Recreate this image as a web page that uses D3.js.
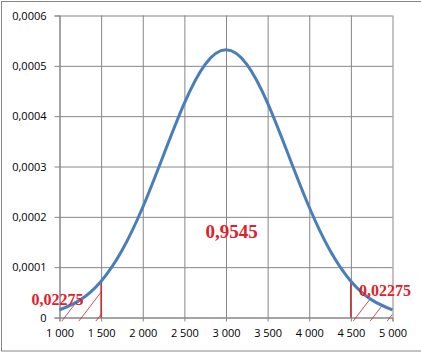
<!DOCTYPE html>
<html>
<head>
<meta charset="utf-8">
<script src="https://cdn.jsdelivr.net/npm/d3@7"></script>
<style>
  body { margin: 0; background: #fff; }
  .tick text { font-family: "Open Sans", "DejaVu Sans", sans-serif; font-size: 11px; fill: #000; }
  .lbl { font-family: "Liberation Serif", "Times New Roman", serif; font-weight: bold; fill: #e0202a; }
</style>
</head>
<body>
<div id="chart"></div>
<script>
// values
var xValues = [1000, 1250, 1500, 1750, 2000, 2250, 2500, 2750, 3000, 3250, 3500, 3750, 4000, 4250, 4500, 4750, 5000];
var yValues = [0.000015, 0.000035, 0.000072, 0.000133, 0.000219, 0.000323, 0.000426, 0.000503, 0.000532,
               0.000503, 0.000426, 0.000323, 0.000219, 0.000133, 0.000072, 0.000035, 0.000015];
var xTicks = [1000, 1500, 2000, 2500, 3000, 3500, 4000, 4500, 5000];
var yTicks = [0, 0.0001, 0.0002, 0.0003, 0.0004, 0.0005, 0.0006];
var tails = [[1000, 1500], [4500, 5000]];
var tailLabel = "0,02275";
var centerLabel = "0,9545";

var svgWidth = 421, svgHeight = 357;
var margin = {top: 15.5, left: 59.5, right: 28.5, bottom: 39.5};
var chartWidth = 392.5 - margin.left;
var chartHeight = 317.5 - margin.top;

var svg = d3.select("#chart").append("svg")
    .attr("width", svgWidth)
    .attr("height", svgHeight);

// outer frame
svg.append("rect")
    .attr("x", 1.5).attr("y", 1.5)
    .attr("width", 430).attr("height", 349.5)
    .attr("fill", "none")
    .attr("stroke", "#868686");

var chartGroup = svg.append("g")
    .attr("transform", `translate(${margin.left},${margin.top})`);

var xScale = d3.scaleLinear().domain([1000, 5000]).range([0, chartWidth]);
var yScale = d3.scaleLinear().domain([0, 0.0006]).range([chartHeight, 0]);

var fmtX = function(d) { return d3.format(",")(d).replace(",", " "); };
var fmtY = function(d) { return d === 0 ? "0" : d3.format(".4f")(d).replace(".", ","); };

// grid
chartGroup.append("g")
    .attr("class", "grid")
    .call(d3.axisLeft(yScale).tickValues(yTicks).tickSize(-chartWidth).tickFormat(""))
    .call(g => g.select(".domain").remove());
chartGroup.append("g")
    .attr("class", "grid")
    .attr("transform", `translate(0,${chartHeight})`)
    .call(d3.axisBottom(xScale).tickValues(xTicks).tickSize(-chartHeight).tickFormat(""))
    .call(g => g.select(".domain").remove());
chartGroup.selectAll(".grid line").attr("stroke", "#868686");

// axes
var yAxis = chartGroup.append("g")
    .call(d3.axisLeft(yScale).tickValues(yTicks).tickSize(5).tickPadding(8).tickFormat(fmtY));
var xAxis = chartGroup.append("g")
    .attr("transform", `translate(0,${chartHeight})`)
    .call(d3.axisBottom(xScale).tickValues(xTicks).tickSize(4).tickPadding(8).tickFormat(fmtX));
chartGroup.selectAll(".domain, .tick line").attr("stroke", "#868686");
chartGroup.selectAll(".tick text").attr("fill", "#000");

var pts = xValues.map((x, i) => ({x: x, y: yValues[i]}));

// hatched tails, clipped to the area under the curve
var areaGen = d3.area()
    .x(d => xScale(d.x))
    .y0(chartHeight + 4)
    .y1(d => yScale(d.y))
    .curve(d3.curveNatural);
var defs = svg.append("defs");
defs.append("clipPath").attr("id", "under")
    .append("path").attr("d", areaGen(pts));

tails.forEach(function(t, i) {
    defs.append("clipPath").attr("id", "tail" + i)
        .append("rect")
        .attr("x", xScale(t[0])).attr("y", 0)
        .attr("width", xScale(t[1]) - xScale(t[0]))
        .attr("height", chartHeight + 4);
    var g = chartGroup.append("g").attr("clip-path", "url(#under)")
        .append("g").attr("clip-path", "url(#tail" + i + ")");
    var x0 = xScale(t[0]) + 2, x1 = xScale(t[1]);
    g.selectAll("line")
        .data(d3.range(x0, x1 + 40, 17))
        .enter().append("line")
        .attr("x1", d => d).attr("y1", chartHeight + 4)
        .attr("x2", d => d + 40).attr("y2", chartHeight + 4 - 52)
        .attr("stroke", "#c0272d")
        .attr("stroke-width", 0.8);
});

// red boundary lines
[1500, 4500].forEach(function(b) {
    var idx = xValues.indexOf(b);
    chartGroup.append("line")
        .attr("x1", xScale(b)).attr("x2", xScale(b))
        .attr("y1", chartHeight).attr("y2", yScale(yValues[idx]))
        .attr("stroke", "#c0272d")
        .attr("stroke-width", 1.5);
});

// curve
chartGroup.append("path")
    .datum(pts)
    .attr("fill", "none")
    .attr("stroke", "#4a7ebb")
    .attr("stroke-width", 3)
    .attr("d", d3.line().x(d => xScale(d.x)).y(d => yScale(d.y)).curve(d3.curveNatural));

// labels
svg.append("text").attr("class", "lbl")
    .attr("x", 57.5).attr("y", 305).attr("text-anchor", "middle")
    .style("font-size", "16px")
    .text(tailLabel);
svg.append("text").attr("class", "lbl")
    .attr("x", 385).attr("y", 296).attr("text-anchor", "middle")
    .style("font-size", "16px")
    .text(tailLabel);
svg.append("text").attr("class", "lbl")
    .attr("x", 231.5).attr("y", 238).attr("text-anchor", "middle")
    .style("font-size", "19px")
    .text(centerLabel);
</script>
</body>
</html>
